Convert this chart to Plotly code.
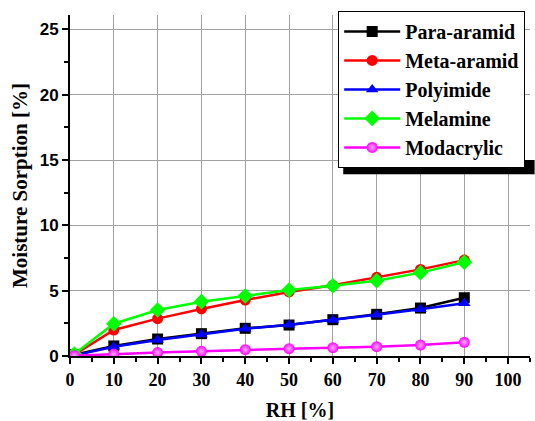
import plotly.graph_objects as go

rh = [1, 10, 20, 30, 40, 50, 60, 70, 80, 90]
para_aramid = [0.10, 0.77, 1.30, 1.71, 2.12, 2.37, 2.78, 3.19, 3.67, 4.46]
meta_aramid = [0.10, 1.99, 2.86, 3.60, 4.28, 4.90, 5.41, 6.02, 6.63, 7.34]
polyimide = [0.05, 0.70, 1.22, 1.65, 2.08, 2.40, 2.75, 3.15, 3.57, 4.03]
melamine = [0.15, 2.47, 3.52, 4.16, 4.59, 5.05, 5.38, 5.76, 6.38, 7.17]
modacrylic = [0.02, 0.15, 0.26, 0.36, 0.48, 0.56, 0.64, 0.71, 0.84, 1.05]

series = [
    ("Para-aramid", para_aramid, "#000000", "square"),
    ("Meta-aramid", meta_aramid, "#ff0000", "circle"),
    ("Polyimide", polyimide, "#0000ff", "triangle-up"),
    ("Melamine", melamine, "#00ff00", "diamond"),
    ("Modacrylic", modacrylic, "#ff00ff", "circle"),
]

fig = go.Figure()
for name, vals, col, sym in series:
    marker = dict(symbol=sym, size=11, color=col, line=dict(width=0))
    if name == "Modacrylic":
        marker["gradient"] = dict(type="radial", color="#ffb0ff")
    if sym == "diamond":
        marker["size"] = 12
    fig.add_trace(go.Scatter(x=rh, y=vals, name=name, mode="lines+markers",
                             line=dict(color=col, width=2.5), marker=marker))

serif = "Liberation Serif"
sans = "Liberation Sans"

fig.update_layout(
    width=535, height=421,
    margin=dict(l=70, r=5, t=15, b=65),
    paper_bgcolor="white", plot_bgcolor="white",
    showlegend=True,
    legend=dict(x=0.583, y=1.012, xanchor="left", yanchor="top",
                bgcolor="white", bordercolor="black", borderwidth=1,
                font=dict(family=serif, size=20, color="black", weight="bold"),
                tracegroupgap=0, itemwidth=56),
    xaxis=dict(range=[0, 105], tickvals=[0, 10, 20, 30, 40, 50, 60, 70, 80, 90, 100],
               automargin=False,
               showgrid=True, gridcolor="#a0a0a0", gridwidth=1,
               showline=True, linecolor="black", linewidth=2,
               ticks="outside", ticklen=6, tickwidth=1.5, tickcolor="black",
               minor=dict(dtick=5, ticks="outside", ticklen=4, tickcolor="black", showgrid=False),
               tickfont=dict(family=serif, size=18, color="black", weight="bold"),
               zeroline=False,
               title=dict(text="RH [%]", font=dict(family=serif, size=20, color="black", weight="bold"),
                          standoff=16)),
    yaxis=dict(range=[0, 26.1], tickvals=[0, 5, 10, 15, 20, 25],
               automargin=False,
               showgrid=True, gridcolor="#a0a0a0", gridwidth=1,
               showline=True, linecolor="black", linewidth=2,
               ticks="outside", ticklen=6, tickwidth=1.5, tickcolor="black",
               minor=dict(dtick=2.5, ticks="outside", ticklen=4, tickcolor="black", showgrid=False),
               tickfont=dict(family=sans, size=17, color="black", weight="bold"),
               zeroline=False,
               title=dict(text="Moisture Sorption [%]",
                          font=dict(family=serif, size=21, color="black", weight="bold"),
                          standoff=6)),
    shapes=[dict(type="rect", xref="paper", yref="paper",
                 x0=0.594, x1=1.01, y0=0.533, y1=0.575,
                 fillcolor="black", line=dict(width=0), layer="above")],
)

fig.write_html("out.html")
